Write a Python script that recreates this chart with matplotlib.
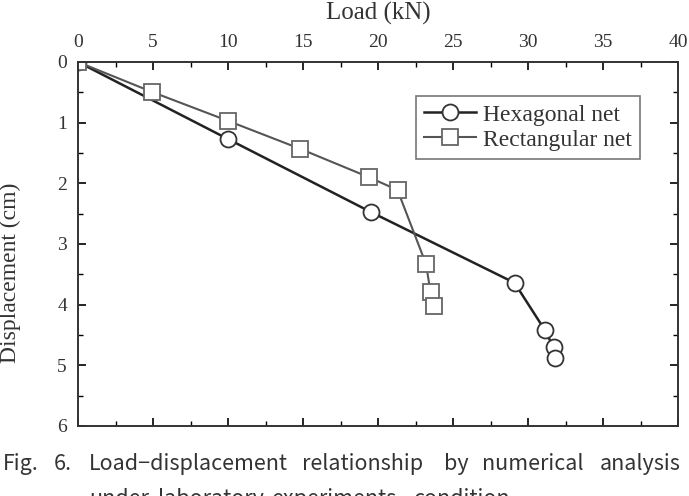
import matplotlib.pyplot as plt
from matplotlib.ticker import MultipleLocator

# data
hex_load = [0, 10.0, 19.5, 29.1, 31.1, 31.7, 31.8]
hex_disp = [0, 1.27, 2.47, 3.64, 4.41, 4.70, 4.88]
rect_load = [0, 4.9, 10.0, 14.8, 19.4, 21.3, 23.2, 23.5, 23.7]
rect_disp = [0, 0.49, 0.97, 1.43, 1.90, 2.11, 3.33, 3.79, 4.02]

serif = ['Liberation Serif', 'DejaVu Serif']
sans = ['Noto Sans CJK KR', 'DejaVu Sans']

fig = plt.figure(figsize=(6.89, 4.96), dpi=100)
ax = fig.add_axes([78 / 689, 1 - 426 / 496, 600 / 689, 364 / 496])

ax.plot(hex_load, hex_disp, color='#222222', lw=1.8, marker='o', ms=11.5,
        mfc='white', mec='#333333', mew=1.3, label='Hexagonal net')
ax.plot(rect_load, rect_disp, color='#555555', lw=1.5, marker='s', ms=11.5,
        mfc='white', mec='#666666', mew=1.3, label='Rectangular net')

ax.set_xlim(0, 40)
ax.set_ylim(6, 0)
ax.xaxis.set_major_locator(MultipleLocator(5))
ax.xaxis.set_minor_locator(MultipleLocator(2.5))
ax.yaxis.set_major_locator(MultipleLocator(1))
ax.yaxis.set_minor_locator(MultipleLocator(0.5))
ax.xaxis.tick_top()
ax.tick_params(which='both', direction='in', top=True, bottom=True,
               left=True, right=True, labeltop=True, labelbottom=False)
ax.tick_params(which='major', length=6, width=1.2, labelsize=14, pad=8,
               labelcolor='#333333')
ax.tick_params(which='minor', length=3.5, width=1.0)
for lab in ax.get_xticklabels() + ax.get_yticklabels():
    lab.set_fontfamily(serif)
for sp in ax.spines.values():
    sp.set_linewidth(1.4)
    sp.set_color('#333333')

ax.xaxis.set_label_position('top')
ax.set_xlabel('Load (kN)', fontsize=18, family=serif, color='#333333', labelpad=10)
ax.set_ylabel('Displacement (cm)', fontsize=17, family=serif, color='#333333')
ax.yaxis.set_label_coords(-0.095, 0.42)

leg = ax.legend(loc='upper right', bbox_to_anchor=(652 / 689, 1 - 84 / 496),
                bbox_transform=fig.transFigure, prop={'family': serif, 'size': 17},
                fancybox=False, framealpha=1, edgecolor='#777777',
                handlelength=2.2, handletextpad=0.3, borderpad=0.35,
                labelspacing=0.15)
leg.get_frame().set_linewidth(1.2)
for t in leg.get_texts():
    t.set_color('#333333')

# caption, justified word by word like the original
cap = ['Fig.', '6.', 'Load\u2212displacement', 'relationship', 'by', 'numerical']
cap_x = [3, 54, 89, 302, 444, 482]
for w, x in zip(cap, cap_x):
    fig.text(x / 689, 1 - 464 / 496, w, fontsize=15.5, family=sans,
             color='#333333', va='center', ha='left')
fig.text(681 / 689, 1 - 464 / 496, 'analysis', fontsize=15.5, family=sans,
         color='#333333', va='center', ha='right')
# second caption line is cut by the bottom edge in the original
line2 = ['under', 'laboratory', 'experiments', 'condition']
line2_x = [89, 158, 272, 414]
for w, x in zip(line2, line2_x):
    fig.text(x / 689, 1 - 499 / 496, w, fontsize=15.5, family=sans,
             color='#333333', va='center', ha='left')

fig.savefig('out.png', dpi=100)
